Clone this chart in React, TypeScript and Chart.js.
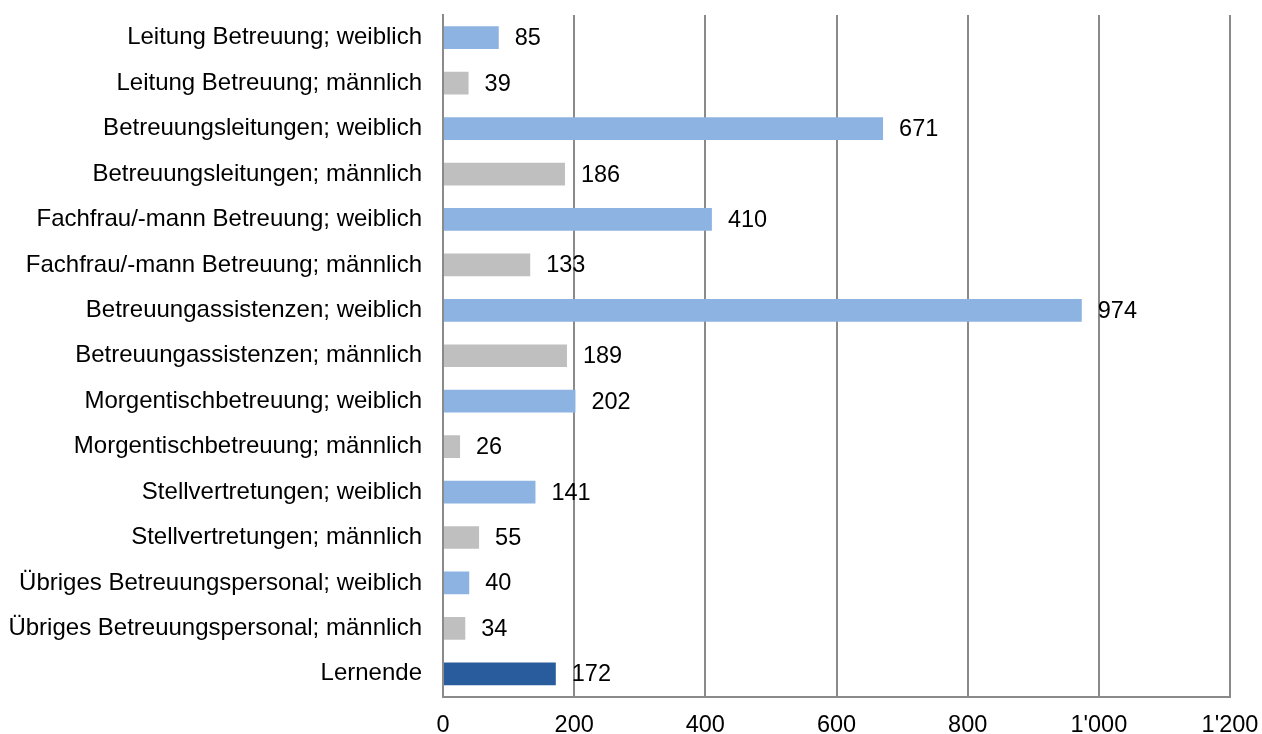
import React, { useEffect, useRef } from "react";
import { Chart, registerables } from "chart.js";

Chart.register(...registerables);

const categories: string[] = [
  "Leitung Betreuung; weiblich",
  "Leitung Betreuung; männlich",
  "Betreuungsleitungen; weiblich",
  "Betreuungsleitungen; männlich",
  "Fachfrau/-mann Betreuung; weiblich",
  "Fachfrau/-mann Betreuung; männlich",
  "Betreuungassistenzen; weiblich",
  "Betreuungassistenzen; männlich",
  "Morgentischbetreuung; weiblich",
  "Morgentischbetreuung; männlich",
  "Stellvertretungen; weiblich",
  "Stellvertretungen; männlich",
  "Übriges Betreuungspersonal; weiblich",
  "Übriges Betreuungspersonal; männlich",
  "Lernende",
];

const values: number[] = [85, 39, 671, 186, 410, 133, 974, 189, 202, 26, 141, 55, 40, 34, 172];

const xTickValues: number[] = [0, 200, 400, 600, 800, 1000, 1200];

const COLOR_F = "#8DB3E2";
const COLOR_M = "#BFBFBF";
const COLOR_L = "#285C9C";

const FONT_FAMILY = "Arial, 'Liberation Sans', Helvetica, sans-serif";
const FONT_SIZE = 24;
const VALUE_FONT_SIZE = 23.5;

function colorFor(cat: string): string {
  if (cat.endsWith("weiblich")) return COLOR_F;
  if (cat.endsWith("männlich")) return COLOR_M;
  return COLOR_L;
}

function fmt(v: number): string {
  return String(v).replace(/\B(?=(\d{3})+(?!\d))/g, "'");
}

const valueLabelPlugin = {
  id: "valueLabels",
  afterDatasetsDraw(chart: any) {
    const ctx = chart.ctx;
    const meta = chart.getDatasetMeta(0);
    ctx.save();
    ctx.font = `${VALUE_FONT_SIZE}px ${FONT_FAMILY}`;
    ctx.fillStyle = "#000000";
    ctx.textAlign = "left";
    ctx.textBaseline = "middle";
    meta.data.forEach((bar: any, i: number) => {
      ctx.fillText(fmt(values[i]), bar.x + 16, bar.y + 1);
    });
    ctx.restore();
  },
};

export default function App() {
  const canvasRef = useRef<HTMLCanvasElement | null>(null);

  useEffect(() => {
    if (!canvasRef.current) return;
    const chart = new Chart(canvasRef.current, {
      type: "bar",
      data: {
        labels: categories,
        datasets: [
          {
            data: values,
            backgroundColor: categories.map(colorFor),
            barPercentage: 0.5,
            categoryPercentage: 1.0,
            borderWidth: 0,
          },
        ],
      },
      options: {
        indexAxis: "y",
        animation: false,
        responsive: true,
        maintainAspectRatio: false,
        layout: { padding: { top: 15, right: 32, left: 0, bottom: 0 } },
        plugins: {
          legend: { display: false },
          tooltip: { enabled: false },
        },
        scales: {
          x: {
            min: 0,
            max: 1200,
            afterBuildTicks: (scale: any) => {
              scale.ticks = xTickValues.map((v) => ({ value: v }));
            },
            afterFit: (scale: any) => {
              scale.height = 37.5;
              scale.paddingLeft = 0;
              scale.paddingRight = 0;
            },
            grid: {
              display: true,
              color: "#8A8A8A",
              lineWidth: 2,
              drawTicks: false,
            },
            border: { display: true, color: "#8A8A8A", width: 2 },
            ticks: {
              color: "#000000",
              padding: 15,
              maxRotation: 0,
              font: { family: FONT_FAMILY, size: VALUE_FONT_SIZE },
              callback: (v: any) => fmt(Number(v)),
            },
          },
          y: {
            afterFit: (scale: any) => {
              scale.width = 443;
              scale.paddingTop = 0;
              scale.paddingBottom = 0;
            },
            grid: { display: false, drawTicks: false },
            border: { display: true, color: "#8A8A8A", width: 2 },
            ticks: {
              color: "#000000",
              padding: 21,
              autoSkip: false,
              font: { family: FONT_FAMILY, size: FONT_SIZE },
            },
          },
        },
      },
      plugins: [valueLabelPlugin],
    });
    return () => chart.destroy();
  }, []);

  return (
    <div style={{ position: "fixed", left: 0, top: 0, width: 1262, height: 734, background: "#ffffff" }}>
      <canvas ref={canvasRef} />
    </div>
  );
}
